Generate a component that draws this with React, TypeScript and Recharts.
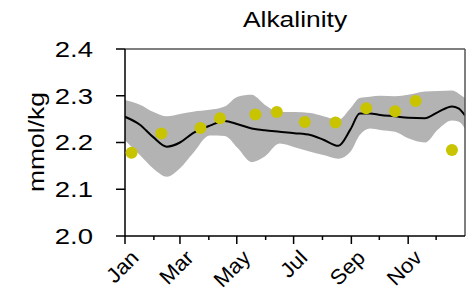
import React from "react";
import {
  ComposedChart,
  Area,
  Line,
  Scatter,
  XAxis,
  YAxis,
  ReferenceLine,
} from "recharts";

// day of year for the smoothed curve and its range band
const curveDays = [0, 16, 30, 45, 59, 73, 91, 107, 121, 136, 150, 166, 182, 199, 213, 229, 242, 252, 263, 274, 290, 304, 322, 336, 351, 358, 365];
const meanValues = [2.255, 2.238, 2.212, 2.191, 2.2, 2.22, 2.236, 2.246, 2.239, 2.23, 2.226, 2.223, 2.22, 2.216, 2.206, 2.193, 2.228, 2.262, 2.262, 2.259, 2.256, 2.253, 2.252, 2.265, 2.277, 2.273, 2.258];
const upperValues = [2.291, 2.281, 2.266, 2.256, 2.261, 2.266, 2.27, 2.277, 2.298, 2.302, 2.281, 2.265, 2.265, 2.263, 2.256, 2.248, 2.273, 2.295, 2.298, 2.3, 2.299, 2.302, 2.309, 2.31, 2.311, 2.305, 2.295];
const lowerValues = [2.205, 2.173, 2.145, 2.127, 2.145, 2.177, 2.215, 2.214, 2.188, 2.158, 2.17, 2.198, 2.19, 2.18, 2.173, 2.165, 2.18, 2.216, 2.23, 2.227, 2.223, 2.209, 2.2, 2.228, 2.247, 2.245, 2.23];

// observations
const obsDays = [7, 39, 81, 102, 140, 163, 193, 226, 259, 290, 312, 351];
const obsValues = [2.178, 2.219, 2.231, 2.252, 2.26, 2.265, 2.244, 2.243, 2.273, 2.267, 2.289, 2.184];

const monthStarts = [0, 31, 59, 90, 120, 151, 181, 212, 243, 273, 304, 334];
const monthLabels = ["Jan", "Feb", "Mar", "Apr", "May", "Jun", "Jul", "Aug", "Sep", "Oct", "Nov", "Dec"];
const yTicks = [2.0, 2.1, 2.2, 2.3, 2.4];

const FONT = "'Liberation Sans', Arial, sans-serif";
const FS = 22;
const STRETCH = 1.2; // the reference font runs wide

const curveData = curveDays.map((day, i) => ({
  day,
  mean: meanValues[i],
  band: [lowerValues[i], upperValues[i]],
}));

const obsData = obsDays.map((day, i) => ({ day, value: obsValues[i] }));

function MonthTick(props: any) {
  const { x, y, payload, index } = props;
  const major = index % 2 === 0;
  const label = monthLabels[monthStarts.indexOf(payload.value)];
  const ax = x + 15;
  const ay = y + 23;
  return (
    <g>
      <line x1={x} y1={y} x2={x} y2={y + (major ? 8 : 4)} stroke="#000" strokeWidth={1.5} />
      {major && (
        <text
          transform={`translate(${ax}, ${ay}) rotate(-45) scale(1.05, 1)`}
          textAnchor="end"
          fontSize={21}
          fontFamily={FONT}
          fill="#000"
        >
          {label}
        </text>
      )}
    </g>
  );
}

function ValueTick(props: any) {
  const { x, y, payload } = props;
  return (
    <text
      transform={`translate(${x}, ${y}) scale(1.25, 1)`}
      textAnchor="end"
      dy="0.36em"
      fontSize={FS}
      fontFamily={FONT}
      fill="#000"
    >
      {Number(payload.value).toFixed(1)}
    </text>
  );
}

const Dot = (props: any) => <circle cx={props.cx} cy={props.cy} r={6} fill="#c8c400" />;

export default function App() {
  return (
    <div style={{ position: "absolute", left: 0, top: 0, width: 466, height: 294, background: "#fff" }}>
      <div
        style={{
          position: "absolute",
          left: 125,
          width: 340,
          top: 7,
          textAlign: "center",
          fontFamily: FONT,
          fontSize: FS,
          transform: `scaleX(${STRETCH})`,
        }}
      >
        Alkalinity
      </div>
      <div
        style={{
          position: "absolute",
          left: 37,
          top: 142,
          transform: `translate(-50%, -50%) rotate(-90deg) scaleX(${STRETCH})`,
          fontFamily: FONT,
          fontSize: FS,
          whiteSpace: "nowrap",
        }}
      >
        mmol/kg
      </div>
      <ComposedChart
        width={466}
        height={294}
        data={curveData}
        margin={{ top: 49, right: 1, bottom: 0, left: 0 }}
      >
        <XAxis
          dataKey="day"
          type="number"
          domain={[0, 365]}
          ticks={monthStarts}
          interval={0}
          height={58}
          tickLine={false}
          tickSize={0}
          tickMargin={0}
          axisLine={{ stroke: "#000", strokeWidth: 1.5 }}
          tick={<MonthTick />}
          allowDataOverflow
        />
        <YAxis
          type="number"
          domain={[2.0, 2.4]}
          ticks={yTicks}
          width={125}
          tickSize={9}
          tickMargin={23}
          tick={<ValueTick />}
          tickLine={{ stroke: "#000", strokeWidth: 1.5 }}
          axisLine={{ stroke: "#000", strokeWidth: 1.5 }}
          allowDataOverflow
        />
        <Area
          type="monotone"
          dataKey="band"
          stroke="none"
          fill="#b3b3b3"
          fillOpacity={1}
          isAnimationActive={false}
        />
        <Line
          type="monotone"
          dataKey="mean"
          stroke="#000"
          strokeWidth={2}
          dot={false}
          activeDot={false}
          isAnimationActive={false}
        />
        <Scatter data={obsData} dataKey="value" shape={<Dot />} isAnimationActive={false} />
        <ReferenceLine y={2.4} stroke="#555" strokeWidth={1.5} />
        <ReferenceLine x={365} stroke="#555" strokeWidth={1.5} />
      </ComposedChart>
    </div>
  );
}
